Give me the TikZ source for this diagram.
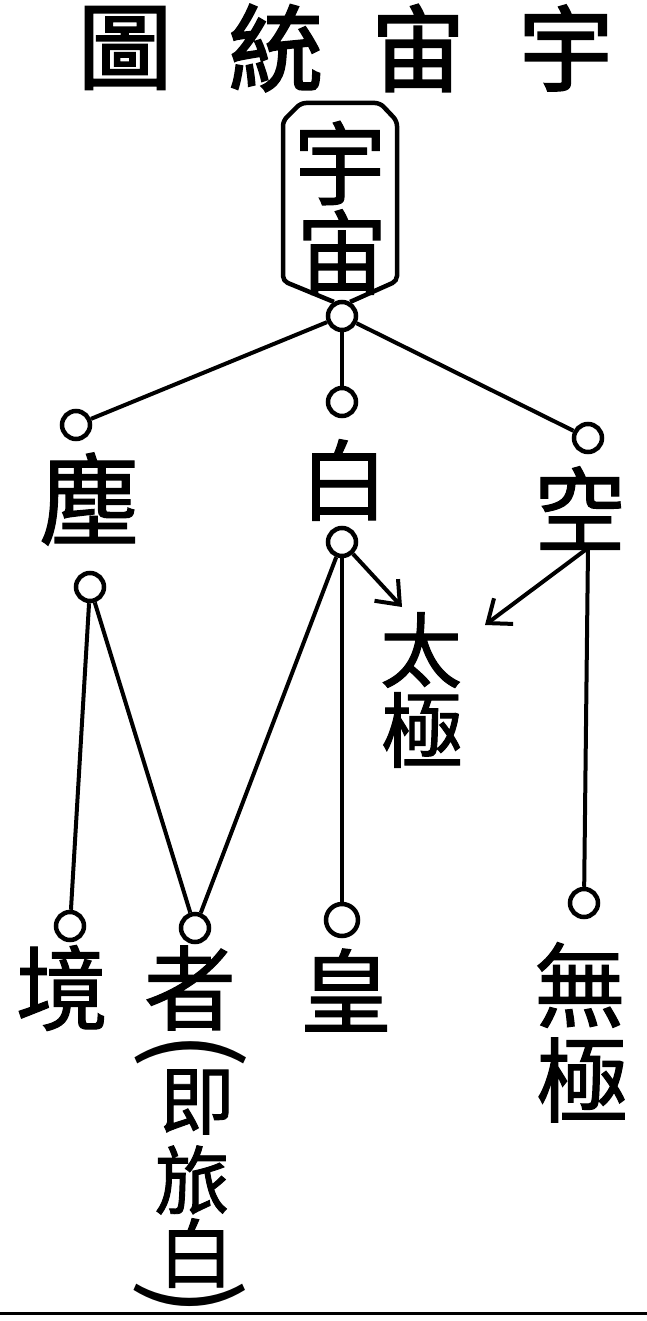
\documentclass[tikz,border=0pt]{standalone}
\usepackage{fontspec}
\newfontfamily\cjk{Noto Sans CJK TC}[FakeBold=1.2]
\newfontfamily\cjkt{Noto Sans CJK TC}[FakeBold=2.2]
\newfontfamily\cjkp{Noto Sans CJK TC}
\usetikzlibrary{arrows.meta}
\begin{document}
\begin{tikzpicture}[x=1pt,y=-1pt,
  ln/.style={line width=4pt},
  arr/.style={line width=4pt,-{Straight Barb[length=20pt,width=32pt]}},
  dot/.style={circle,draw,line width=4.5pt,minimum size=28pt,inner sep=0pt},
  ch/.style={inner sep=0pt,font=\cjk\fontsize{#1}{#1}\selectfont},
  ch/.default=92,
  par/.style={inner sep=0pt,rotate=-90,font=\cjkp\fontsize{110}{110}\selectfont},
  ttl/.style={inner sep=0pt,font=\cjkt\fontsize{94}{94}\selectfont}
]
\useasboundingbox (0,0) rectangle (647,1321);
% title (read right to left)
\node[ttl] (t4) at (125,48) {圖};
\node[ttl] (t3) at (276,48) {統};
\node[ttl] (t2) at (418,48) {宙};
\node[ttl] (t1) at (566,48) {宇};
% top box
\node[ch=92] (yu) at (340,163) {宇};
\node[ch=92] (zhou) at (342,252) {宙};
\node[dot] (c0) at (342,316) {};
\draw[line width=4.5pt,rounded corners=5pt] (c0.120) -- (283,281) -- (283,121) -- (301,103) -- (380,103) -- (397,121) -- (397,281) -- (c0.60);
% second level
\node[dot] (cL) at (76,425) {};
\node[dot] (cM) at (342,402) {};
\node[dot] (cR) at (588,438) {};
\draw[ln] (c0) -- (cL);
\draw[ln] (c0) -- (cM);
\draw[ln] (c0) -- (cR);
\node[ch=100] (chen) at (89,499) {塵};
\node[ch=88] (bai) at (344,480) {白};
\node[ch=92] (kong) at (580,508) {空};
\node[dot] (cL2) at (90,587) {};
\node[dot] (cM2) at (342,542) {};
\coordinate (k0) at (588,548);
% taiji
\node[ch=82] (tai) at (421,650) {太};
\node[ch=82] (ji) at (422,730) {極};
\coordinate (tA) at (402,607);
\coordinate (tB) at (485,625);
\draw[arr] (cM2) -- (tA);
\draw[arr] (k0) -- (tB);
% bottom circles
\node[dot] (cJ) at (70,926) {};
\node[dot] (cZ) at (195,928) {};
\node[dot,minimum size=32pt] (cH) at (342,920) {};
\node[dot] (cW) at (584,903) {};
\draw[ln] (cL2) -- (cJ);
\draw[ln] (cL2) -- (cZ);
\draw[ln] (cM2) -- (cZ);
\draw[ln] (cM2) -- (cH);
\draw[ln] (k0) -- (cW);
% bottom texts
\node[ch] (jing) at (62,988) {境};
\node[ch] (zhe) at (190,988) {者};
\node[ch] (huang) at (346,990) {皇};
\node[ch] (wu) at (580,985) {無};
\node[ch] (wuji) at (582,1080) {極};
\node[par] (pl) at (191,1050) {(};
\node[ch=75] (n1) at (197,1102) {即};
\node[ch=75] (n2) at (192,1180) {旅};
\node[ch=75] (n3) at (196,1253) {白};
\node[par] (pr) at (190,1298) {)};
\draw[line width=3pt] (0,1313) -- (647,1313);
\end{tikzpicture}
\end{document}
